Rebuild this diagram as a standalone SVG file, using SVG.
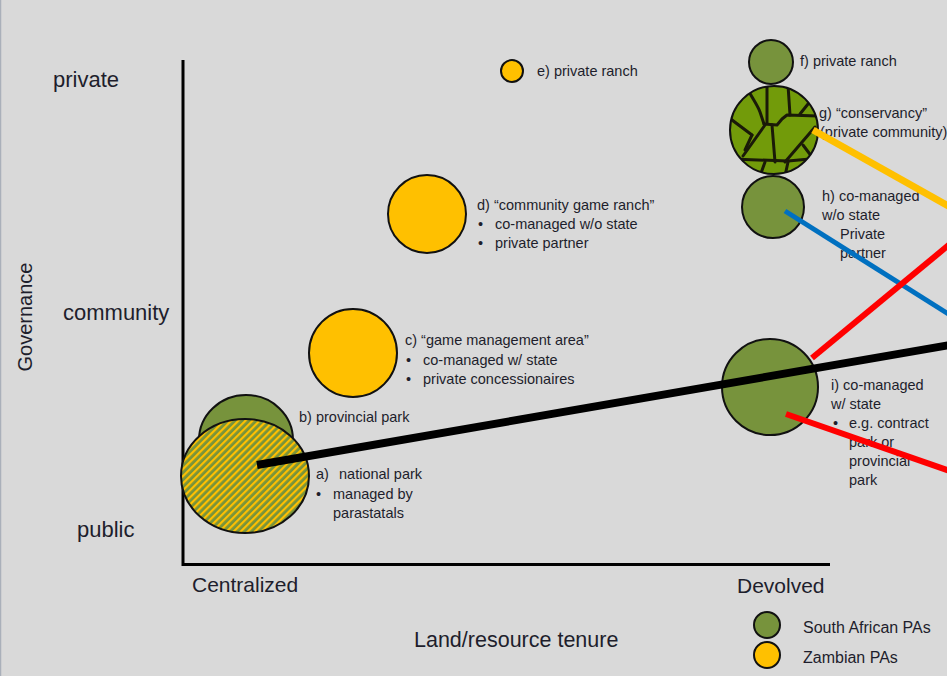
<svg xmlns="http://www.w3.org/2000/svg" width="947" height="676" viewBox="0 0 947 676">
<defs>
<pattern id="hatch" width="5" height="5" patternUnits="userSpaceOnUse" patternTransform="rotate(45)">
<rect width="5" height="5" fill="#77933c"/>
<rect width="2.2" height="5" fill="#ffc000"/>
</pattern>
<clipPath id="gclip"><circle cx="774" cy="130" r="44"/></clipPath>
</defs>
<style>
text{font-family:"Liberation Sans",Arial,sans-serif;fill:#1e1e2c}
.ax{font-size:22px}
.lb{font-size:14.5px}
.lg{font-size:16px}
.sa{fill:#77933c;stroke:#111;stroke-width:2}
.zm{fill:#ffc000;stroke:#111;stroke-width:2}
.road{fill:none;stroke:#1a1a08;stroke-width:3;stroke-linecap:round;stroke-linejoin:round}
.con{fill:none;stroke-linecap:butt}
</style>
<rect width="947" height="676" fill="#d9d9d9"/>
<line x1="0.5" y1="0" x2="0.5" y2="676" stroke="#aab0ba" stroke-width="1.5"/>

<g id="axes">
<polyline points="183,60 183,564.5 830,564.5" fill="none" stroke="#000" stroke-width="3"/>
<text class="ax" x="53" y="87">private</text>
<text class="ax" x="63" y="320">community</text>
<text class="ax" x="77" y="537">public</text>
<text class="ax" transform="translate(32,317) rotate(-90)" text-anchor="middle" style="font-size:20px">Governance</text>
<text class="ax" x="192" y="592" style="font-size:21px">Centralized</text>
<text class="ax" x="737" y="593" style="font-size:21px">Devolved</text>
<text class="ax" x="414" y="647" style="font-size:21.5px">Land/resource tenure</text>
</g>

<g id="node-b">
<ellipse class="sa" cx="246" cy="440" rx="47" ry="45"/>
<text class="lb" x="299" y="422">b) provincial park</text>
</g>

<g id="node-a">
<ellipse cx="245" cy="476" rx="64" ry="57" fill="url(#hatch)" stroke="#111" stroke-width="2"/>
<text class="lb" x="316" y="479">a)</text>
<text class="lb" x="339" y="479">national park</text>
<text class="lb" x="316" y="499">•</text>
<text class="lb" x="333" y="499">managed by</text>
<text class="lb" x="333" y="518">parastatals</text>
</g>

<g id="node-c">
<circle class="zm" cx="353" cy="353" r="44"/>
<text class="lb" x="405" y="345">c) “game management area”</text>
<text class="lb" x="406" y="365">•</text>
<text class="lb" x="423" y="365">co-managed w/ state</text>
<text class="lb" x="406" y="384">•</text>
<text class="lb" x="423" y="384">private concessionaires</text>
</g>

<g id="node-d">
<circle class="zm" cx="427" cy="214" r="39"/>
<text class="lb" x="477" y="210">d) “community game ranch”</text>
<text class="lb" x="478" y="229">•</text>
<text class="lb" x="495" y="229">co-managed w/o state</text>
<text class="lb" x="478" y="248">•</text>
<text class="lb" x="495" y="248">private partner</text>
</g>

<g id="node-e">
<circle class="zm" cx="512" cy="71" r="11"/>
<text class="lb" x="537" y="76">e) private ranch</text>
</g>

<g id="node-f">
<circle class="sa" cx="771" cy="62" r="22"/>
<text class="lb" x="800" y="66">f) private ranch</text>
</g>

<g id="node-g">
<circle cx="774" cy="130" r="44" fill="#729b0a"/>
<g clip-path="url(#gclip)" class="road">
<path d="M746,86 C752,98 758,106 760,112 L764,124"/>
<path d="M767,84 L767,123"/>
<path d="M764,124 L777,125 L782,119 L787,115 L820,116"/>
<path d="M788,85 L790,115"/>
<path d="M808,104 L800,114"/>
<path d="M728,117 L752,135"/>
<path d="M752,135 L745,150"/>
<path d="M765,125 L743,156"/>
<path d="M772,125 L775,162"/>
<path d="M732,159 L788,161 L820,158"/>
<path d="M815,127 L785,162"/>
<path d="M803,145 L812,157"/>
<path d="M765,162 L760,176"/>
<path d="M788,162 L785,176"/>
</g>
<circle cx="774" cy="130" r="44" fill="none" stroke="#111" stroke-width="2"/>
<text class="lb" x="819" y="118">g) “conservancy”</text>
<text class="lb" x="820" y="137">(private community)</text>
</g>

<g id="node-h">
<circle class="sa" cx="773" cy="207" r="31"/>
<text class="lb" x="822" y="201">h) co-managed</text>
<text class="lb" x="822" y="220">w/o state</text>
<text class="lb" x="840" y="239">Private</text>
<text class="lb" x="840" y="258">partner</text>
</g>

<g id="node-i">
<circle class="sa" cx="770" cy="387" r="48"/>
<text class="lb" x="831" y="390">i) co-managed</text>
<text class="lb" x="831" y="409">w/ state</text>
<text class="lb" x="833" y="428">•</text>
<text class="lb" x="849" y="428">e.g. contract</text>
<text class="lb" x="849" y="447">park or</text>
<text class="lb" x="849" y="466">provincial</text>
<text class="lb" x="849" y="485">park</text>
</g>

<g id="legend">
<circle class="sa" cx="767" cy="625" r="13"/>
<circle class="zm" cx="767" cy="655" r="13"/>
<text class="lg" x="803" y="633">South African PAs</text>
<text class="lg" x="803" y="663">Zambian PAs</text>
</g>

<g id="connectors">
<line class="con" x1="257" y1="465" x2="950" y2="345" stroke="#000" stroke-width="8"/>
<line class="con" x1="813" y1="130" x2="950" y2="207" stroke="#ffc000" stroke-width="7"/>
<line class="con" x1="785" y1="211" x2="950" y2="315" stroke="#0070c0" stroke-width="5"/>
<line class="con" x1="812" y1="358" x2="950" y2="244" stroke="#ff0000" stroke-width="6"/>
<line class="con" x1="786" y1="414" x2="950" y2="471" stroke="#ff0000" stroke-width="6"/>
</g>
</svg>
